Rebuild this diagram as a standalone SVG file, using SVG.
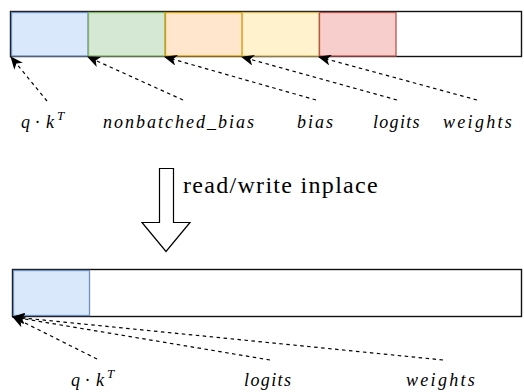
<svg xmlns="http://www.w3.org/2000/svg" width="524" height="392" viewBox="0 0 524 392">
<defs>
<marker id="ah" viewBox="0 0 13 11" refX="12" refY="5.5" markerWidth="13" markerHeight="11" markerUnits="userSpaceOnUse" orient="auto">
<path d="M0,0 L13,5.5 L0,11 L3.5,5.5 Z" fill="#000"/>
</marker>
<style>
.bar{fill:#fff;stroke:#111;stroke-width:1.4}
.c{stroke-width:1.3}
.conn{fill:none;stroke:#000;stroke-width:1.2;stroke-dasharray:3.5,3.5;marker-end:url(#ah)}
.m{font-family:"Liberation Serif","DejaVu Serif",serif;font-style:italic;font-size:18px;fill:#000;letter-spacing:2px}
.sup{font-size:13px}
.t{font-family:"Liberation Serif","DejaVu Serif",serif;font-size:24px;fill:#000;letter-spacing:1.3px}
</style>
</defs>
<rect fill="#fff" x="0" y="0" width="524" height="392"/>
<g id="top-buffer">
<rect class="bar" x="10.5" y="11.5" width="511" height="45"/>
<rect class="c" x="11.5" y="12.5" width="76.5" height="43.5" fill="#dae8fc" stroke="#6c8ebf"/>
<rect class="c" x="88.5" y="12.5" width="76.5" height="43.5" fill="#d5e8d4" stroke="#82b366"/>
<rect class="c" x="165.5" y="12.5" width="76.5" height="43.5" fill="#ffe6cc" stroke="#d79b00"/>
<rect class="c" x="242.5" y="12.5" width="76.5" height="43.5" fill="#fff2cc" stroke="#d6b656"/>
<rect class="c" x="319.5" y="12.5" width="76.5" height="43.5" fill="#f8cecc" stroke="#b85450"/>
</g>
<g id="bottom-buffer">
<rect class="bar" x="12.5" y="269.5" width="509" height="47"/>
<rect class="c" x="13.5" y="270.5" width="76" height="45" fill="#dae8fc" stroke="#6c8ebf"/>
</g>
<g id="inplace-arrow">
<polygon points="159.5,168.5 173.5,168.5 173.5,222.5 190,222.5 166,251.5 142,222.5 159.5,222.5" fill="#fff" stroke="#000" stroke-width="1.2"/>
<text class="t" x="183" y="193">read/write inplace</text>
</g>
<g id="labels">
<text class="m" y="128"><tspan x="21">q</tspan><tspan x="35">·</tspan><tspan x="46">k</tspan><tspan class="sup" x="57" y="120">T</tspan></text>
<text class="m" x="103" y="128">nonbatched_bias</text>
<text class="m" x="297" y="128">bias</text>
<text class="m" x="373" y="128" style="letter-spacing:1.3px">logits</text>
<text class="m" x="443" y="128" style="letter-spacing:2.3px">weights</text>
<text class="m" y="386"><tspan x="71">q</tspan><tspan x="85">·</tspan><tspan x="96">k</tspan><tspan class="sup" x="107" y="378">T</tspan></text>
<text class="m" x="244" y="386" style="letter-spacing:1.4px">logits</text>
<text class="m" x="406" y="386" style="letter-spacing:2.3px">weights</text>
</g>
<g id="connectors">
<line class="conn" x1="47" y1="101" x2="11" y2="57"/>
<line class="conn" x1="183" y1="100" x2="88" y2="57"/>
<line class="conn" x1="316" y1="100" x2="165" y2="57"/>
<line class="conn" x1="397" y1="100" x2="242" y2="57"/>
<line class="conn" x1="477" y1="100" x2="319" y2="57"/>
<line class="conn" x1="97" y1="359" x2="13" y2="317"/>
<line class="conn" x1="270" y1="360" x2="13" y2="317"/>
<line class="conn" x1="443" y1="360" x2="13" y2="317"/>
</g>
</svg>
